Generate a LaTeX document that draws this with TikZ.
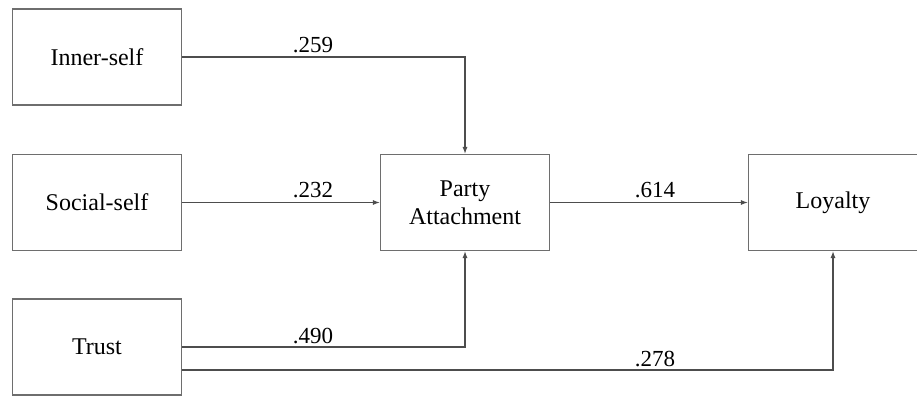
\documentclass[tikz,border=0pt]{standalone}
\usepackage{fontspec}
\setmainfont{Liberation Serif}
\usetikzlibrary{arrows.meta,calc}
\definecolor{boxgray}{HTML}{6E6E6E}
\definecolor{linegray}{HTML}{4D4D4D}
\tikzset{
    varbox/.style={draw=boxgray, line width=0.7pt, minimum width=84.5pt, minimum height=48pt,
                   align=center, font=\fontsize{12}{14}\selectfont},
    link/.style={draw=linegray, line width=0.55pt, -{Latex[length=3.5pt,width=2.6pt]}},
    coef/.style={anchor=base, inner sep=0pt, font=\fontsize{11.5}{13}\selectfont}
}
\begin{document}
\begin{tikzpicture}[x=0.5pt,y=0.5pt]
    \useasboundingbox (0,0) rectangle (917,397);
    \node[varbox] (inner) at (97,340) {Inner-self}; % left column
    \node[varbox] (social) at (97,194.5) {Social-self};
    \node[varbox] (trust) at (97,50) {Trust};
    \node[varbox] (party) at (465,194.5) {Party\\Attachment}; % mediator
    \node[varbox] (loyalty) at (833,194.5) {Loyalty}; % outcome
    \coordinate (trustlow) at ($(trust.east)+(0,-23)$); % second exit of Trust
    \draw[link] (inner.east) -| (party.north);
    \draw[link] (social.east) -- (party.west);
    \draw[link] (trust.east) -| (party.south);
    \draw[link] (trustlow) -| (loyalty.south);
    \draw[link] (party.east) -- (loyalty.west);
    \node[coef] (c259) at (313,344) {.259}; % path weights
    \node[coef] (c232) at (313,199) {.232};
    \node[coef] (c490) at (313,54) {.490};
    \node[coef] (c614) at (655,199) {.614};
    \node[coef] (c278) at (655,31) {.278};
\end{tikzpicture}
\end{document}
